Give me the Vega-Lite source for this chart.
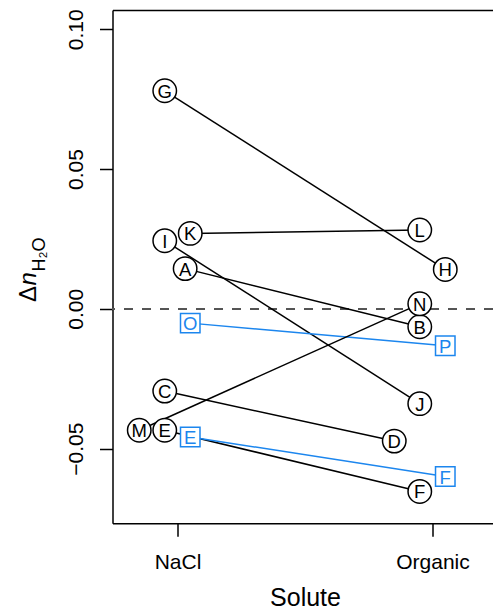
{
  "$schema": "https://vega.github.io/schema/vega-lite/v6.json",
  "autosize": {"type": "none"},
  "width": 380.5,
  "height": 513.3,
  "padding": {"left": 112.5, "top": 10, "right": 0, "bottom": 85.7},
  "background": "white",
  "config": {"view": {"stroke": null}, "font": "Liberation Sans"},
  "data": {"values": [
    {"pair": "GH", "grp": "circle", "x": 0.95, "y": 0.0780, "label": "G"},
    {"pair": "GH", "grp": "circle", "x": 2.05, "y": 0.0141, "label": "H"},
    {"pair": "KL", "grp": "circle", "x": 1.05, "y": 0.0270, "label": "K"},
    {"pair": "KL", "grp": "circle", "x": 1.95, "y": 0.0282, "label": "L"},
    {"pair": "IJ", "grp": "circle", "x": 0.95, "y": 0.0244, "label": "I"},
    {"pair": "IJ", "grp": "circle", "x": 1.95, "y": -0.0339, "label": "J"},
    {"pair": "AB", "grp": "circle", "x": 1.03, "y": 0.0144, "label": "A"},
    {"pair": "AB", "grp": "circle", "x": 1.95, "y": -0.0064, "label": "B"},
    {"pair": "OP", "grp": "square", "x": 1.05, "y": -0.0051, "label": "O"},
    {"pair": "OP", "grp": "square", "x": 2.05, "y": -0.0132, "label": "P"},
    {"pair": "CD", "grp": "circle", "x": 0.95, "y": -0.0294, "label": "C"},
    {"pair": "CD", "grp": "circle", "x": 1.85, "y": -0.0473, "label": "D"},
    {"pair": "MN", "grp": "circle", "x": 0.85, "y": -0.0434, "label": "M"},
    {"pair": "MN", "grp": "circle", "x": 1.95, "y": 0.0018, "label": "N"},
    {"pair": "EF", "grp": "circle", "x": 0.95, "y": -0.0434, "label": "E"},
    {"pair": "EF", "grp": "circle", "x": 1.95, "y": -0.0653, "label": "F"},
    {"pair": "EF2", "grp": "square", "x": 1.05, "y": -0.0458, "label": "E"},
    {"pair": "EF2", "grp": "square", "x": 2.05, "y": -0.0600, "label": "F"}
  ]},
  "resolve": {"axis": {"x": "independent", "y": "independent"}},
  "layer": [
    {
      "mark": {"type": "rule", "color": "#555555", "strokeWidth": 1.5, "strokeDash": [9, 9]},
      "encoding": {
        "y": {"datum": 0, "type": "quantitative", "scale": {"domain": [-0.0767, 0.1069], "nice": false, "zero": false}, "axis": null}
      }
    },
    {
      "mark": {"type": "line", "strokeWidth": 1.5},
      "encoding": {
        "x": {"field": "x", "type": "quantitative",
          "scale": {"domain": [0.7451, 2.2372], "nice": false, "zero": false},
          "axis": {"orient": "bottom", "values": [1, 2],
            "labelExpr": "datum.value == 1 ? 'NaCl' : 'Organic'",
            "labelFont": "Liberation Sans", "labelFontSize": 21, "labelColor": "black",
            "labelAlign": "center", "labelBaseline": "alphabetic", "labelPadding": 32,
            "tickSize": 13, "tickWidth": 1.5, "tickColor": "black",
            "domainColor": "black", "domainWidth": 1.5, "grid": false,
            "title": "Solute", "titleFont": "Liberation Sans", "titleFontSize": 25,
            "titleFontWeight": "normal", "titleColor": "black",
            "titleAlign": "center", "titleBaseline": "alphabetic",
            "titleX": 192.5, "titleY": 81.7}},
        "y": {"field": "y", "type": "quantitative",
          "scale": {"domain": [-0.0767, 0.1069], "nice": false, "zero": false},
          "axis": {"orient": "left", "values": [-0.05, 0, 0.05, 0.1], "format": ".2f",
            "labelAngle": 270, "labelAlign": "center", "labelBaseline": "alphabetic",
            "labelPadding": 17.5, "labelFont": "Liberation Sans", "labelFontSize": 21,
            "labelColor": "black",
            "tickSize": 13, "tickWidth": 1.5, "tickColor": "black",
            "domainColor": "black", "domainWidth": 1.5, "grid": false,
            "title": "Δ", "titleFont": "Liberation Sans", "titleFontSize": 24,
            "titleFontWeight": "normal", "titleColor": "black", "titleAngle": 270,
            "titleAlign": "left", "titleBaseline": "alphabetic",
            "titleX": -77.5, "titleY": 291.5}},
        "detail": {"field": "pair"},
        "order": {"field": "x"},
        "stroke": {"field": "grp", "type": "nominal",
          "scale": {"domain": ["circle", "square"], "range": ["#000000", "#1C86EE"]}, "legend": null}
      }
    },
    {
      "mark": {"type": "point", "filled": true, "fill": "white", "strokeWidth": 1.5, "opacity": 1},
      "encoding": {
        "x": {"field": "x", "type": "quantitative",
          "scale": {"domain": [0.7451, 2.2372], "nice": false, "zero": false},
          "axis": {"orient": "top", "domain": true, "domainColor": "black", "domainWidth": 1.5,
            "ticks": false, "labels": false, "grid": false, "title": null}},
        "y": {"field": "y", "type": "quantitative",
          "scale": {"domain": [-0.0767, 0.1069], "nice": false, "zero": false},
          "axis": {"orient": "left", "domain": false, "ticks": false, "labels": false, "grid": false,
            "title": "n", "titleFont": "Liberation Sans", "titleFontSize": 24,
            "titleFontStyle": "italic", "titleFontWeight": "normal", "titleColor": "black",
            "titleAngle": 270, "titleAlign": "left", "titleBaseline": "alphabetic",
            "titleX": -77.5, "titleY": 275}},
        "shape": {"field": "grp", "type": "nominal",
          "scale": {"domain": ["circle", "square"], "range": ["circle", "square"]}, "legend": null},
        "size": {"field": "grp", "type": "ordinal",
          "scale": {"domain": ["circle", "square"], "range": [550, 380]}, "legend": null},
        "stroke": {"field": "grp", "type": "nominal",
          "scale": {"domain": ["circle", "square"], "range": ["#000000", "#1C86EE"]}, "legend": null}
      }
    },
    {
      "mark": {"type": "text", "font": "Liberation Sans", "fontSize": 18.5, "align": "center", "baseline": "middle", "dy": 1},
      "encoding": {
        "x": {"field": "x", "type": "quantitative",
          "scale": {"domain": [0.7451, 2.2372], "nice": false, "zero": false}, "axis": null},
        "y": {"field": "y", "type": "quantitative",
          "scale": {"domain": [-0.0767, 0.1069], "nice": false, "zero": false},
          "axis": {"orient": "left", "domain": false, "ticks": false, "labels": false, "grid": false,
            "title": "H₂O", "titleFont": "Liberation Sans", "titleFontSize": 18,
            "titleFontWeight": "normal", "titleColor": "black",
            "titleAngle": 270, "titleAlign": "left", "titleBaseline": "alphabetic",
            "titleX": -68.5, "titleY": 261}},
        "text": {"field": "label"},
        "fill": {"field": "grp", "type": "nominal",
          "scale": {"domain": ["circle", "square"], "range": ["#000000", "#1C86EE"]}, "legend": null}
      }
    }
  ]
}
